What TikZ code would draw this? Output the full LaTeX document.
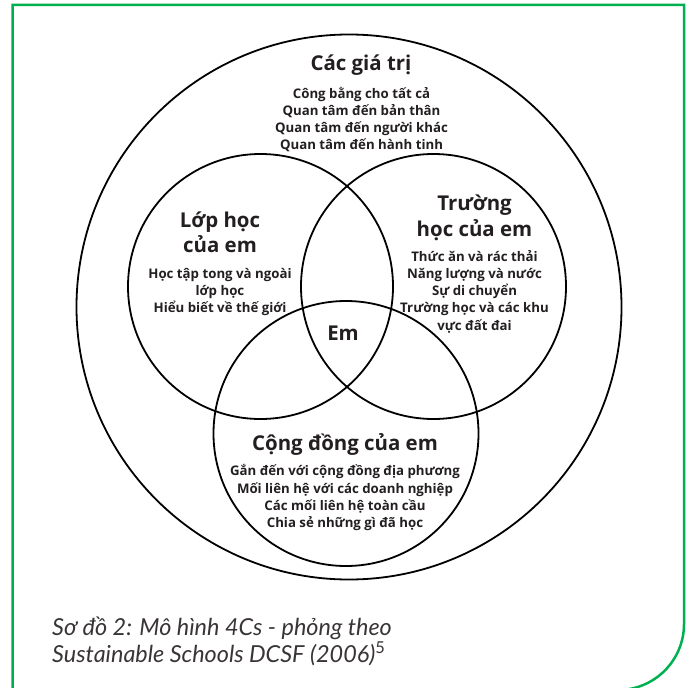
\documentclass[tikz,border=0pt]{standalone}
\usepackage{fontspec}
\setmainfont{Open Sans}
\newfontfamily\capfont{Lato}
\definecolor{framegreen}{RGB}{0,176,80}
\definecolor{inkgray}{RGB}{35,31,32}
\begin{document}
\begin{tikzpicture}[x=1bp, y=-1bp,
        ring/.style={draw=black, line width=1.8bp},
        heading/.style={font=\fontsize{20.5}{25.5}\selectfont\bfseries, text=inkgray, align=center, inner sep=0pt},
        items/.style={font=\fontsize{13.3}{17.3}\selectfont\bfseries, text=inkgray, align=center, inner sep=0pt},
        caption/.style={font=\capfont\fontsize{23.5}{27}\selectfont\itshape, text=inkgray!90, anchor=base west, inner sep=0pt}]
    \useasboundingbox (0,0) rectangle (690,688);
    \coordinate (V) at (349,307);
    \coordinate (L) at (260.5,286.5);
    \coordinate (S) at (433.5,286.5);
    \coordinate (K) at (346,433.5);

    \draw[line width=2.5bp, framegreen] (12.5,700) -- (12.5,5) -- (684,5) -- (684,624)
        arc[start angle=0, end angle=90, radius=66] -- (500,690);

    \draw[ring] (V) circle (272.5);
    \draw[ring] (L) circle (132.5);
    \draw[ring] (S) circle (132.5);
    \draw[ring] (K) circle (132.5);

    \node[heading] (valuesT) at (361,65) {Các giá trị};
    \node[items] (valuesB) at (361.5,119.5) {Công bằng cho tất cả\\Quan tâm đến bản thân\\Quan tâm đến người khác\\Quan tâm đến hành tinh};

    \node[heading] (classT) at (220,232) {Lớp học\\của em};
    \node[items] (classB) at (220,292) {Học tập tong và ngoài\\lớp học\\Hiểu biết về thế giới};

    \node[heading] (schoolT) at (474.5,218) {Trường\\học của em};
    \node[items] (schoolB) at (474.5,291.5) {Thức ăn và rác thải\\Năng lượng và nước\\Sự di chuyển\\Trường học và các khu\\vực đất đai};

    \node[heading] (commT) at (345,444) {Cộng đồng của em};
    \node[items] (commB) at (345,497.8) {Gắn đến với cộng đồng địa phương\\Mối liên hệ với các doanh nghiệp\\Các mối liên hệ toàn cầu\\Chia sẻ những gì đã học};

    \node[heading] (em) at (343,333) {Em};

    \node[caption] (cap1) at (52,635) {Sơ đồ 2: Mô hình 4Cs - phỏng theo};
    \node[caption] (cap2) at (52,662) {Sustainable Schools DCSF (2006){\upshape\textsuperscript{5}}};
\end{tikzpicture}
\end{document}
